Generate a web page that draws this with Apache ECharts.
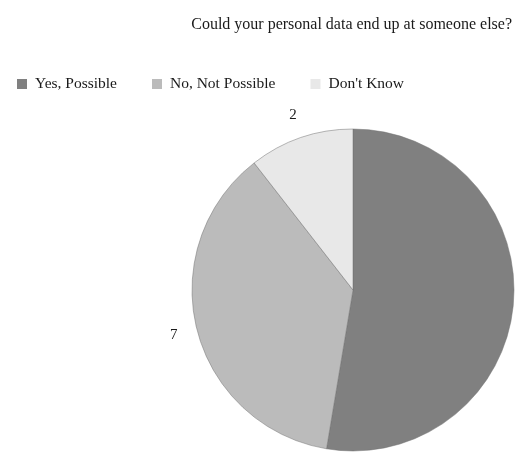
<!DOCTYPE html>
<html>
<head>
<meta charset="utf-8">
<script src="https://cdn.jsdelivr.net/npm/echarts@6/dist/echarts.min.js"></script>
<style>
  html, body { margin: 0; padding: 0; background: #fff; }
  #chart { width: 520px; height: 454px; }
</style>
</head>
<body>
<div id="chart"></div>
<script>
const categories = ['Yes, Possible', 'No, Not Possible', "Don't Know"]
const counts = [10, 7, 2]
const sliceColors = ['#808080', '#bbbbbb', '#e8e8e8']

const chart = echarts.init(document.getElementById('chart'))

const pieData = categories.map((name, i) => ({
  name: name,
  value: counts[i],
  itemStyle: { color: sliceColors[i] }
}))

chart.setOption({
  backgroundColor: '#ffffff',
  animation: false,
  textStyle: { fontFamily: 'Liberation Serif' },
  title: {
    text: 'Could your personal data end up at someone else?',
    right: 3,
    top: 12,
    textStyle: {
      fontFamily: 'Liberation Serif',
      fontSize: 16,
      fontWeight: 'normal',
      color: '#1a1a1a'
    }
  },
  legend: {
    left: 12,
    top: 71,
    icon: 'rect',
    itemWidth: 10,
    itemHeight: 10,
    itemGap: 35,
    data: categories,
    itemStyle: { borderWidth: 0 },
    textStyle: {
      fontFamily: 'Liberation Serif',
      fontSize: 15.5,
      color: '#1a1a1a',
      padding: [0, 0, 0, 3]
    }
  },
  series: [
    {
      type: 'pie',
      center: [353, 290],
      radius: 161,
      startAngle: 90,
      clockwise: true,
      data: pieData,
      itemStyle: {
        borderColor: '#707070',
        borderWidth: 0.5
      },
      label: {
        show: true,
        position: 'outside',
        formatter: '{c}',
        distanceToLabelLine: 0,
        fontFamily: 'Liberation Serif',
        fontSize: 15,
        color: '#1a1a1a'
      },
      labelLine: {
        show: false,
        length: 24,
        length2: 0
      },
      labelLayout: { align: 'center' },
      emphasis: { disabled: true }
    }
  ]
})
</script>
</body>
</html>
